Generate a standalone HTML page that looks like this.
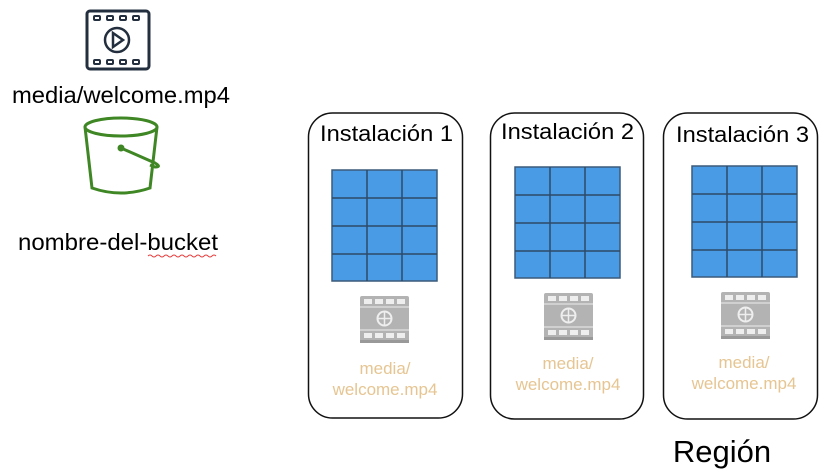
<!DOCTYPE html>
<html><head><meta charset="utf-8"><style>
html,body{margin:0;padding:0;background:#fff;}
svg{display:block;}
text{font-family:"Liberation Sans",sans-serif;}
</style></head><body>
<svg width="832" height="472" viewBox="0 0 832 472" xmlns="http://www.w3.org/2000/svg">
<defs>
<g id="grid">
  <rect x="0" y="0" width="105" height="111" fill="#4a9be6" stroke="#3a5a7a" stroke-width="1.5"/>
  <line x1="35" y1="0" x2="35" y2="111" stroke="#2e4a66" stroke-width="1.5"/>
  <line x1="70" y1="0" x2="70" y2="111" stroke="#2e4a66" stroke-width="1.5"/>
  <line x1="0" y1="28" x2="105" y2="28" stroke="#2e4a66" stroke-width="1.5"/>
  <line x1="0" y1="56" x2="105" y2="56" stroke="#2e4a66" stroke-width="1.5"/>
  <line x1="0" y1="84" x2="105" y2="84" stroke="#2e4a66" stroke-width="1.5"/>
</g>
<g id="film">
  <rect x="0" y="0" width="49" height="47" rx="2" fill="#b3b3b3"/>
  <rect x="0" y="44" width="49" height="3" fill="#999"/>
  <rect x="4" y="3" width="8" height="5" fill="#eee"/>
  <rect x="15" y="3" width="8" height="5" fill="#eee"/>
  <rect x="26" y="3" width="8" height="5" fill="#eee"/>
  <rect x="37" y="3" width="8" height="5" fill="#eee"/>
  <rect x="4" y="37" width="8" height="5" fill="#eee"/>
  <rect x="15" y="37" width="8" height="5" fill="#eee"/>
  <rect x="26" y="37" width="8" height="5" fill="#eee"/>
  <rect x="37" y="37" width="8" height="5" fill="#eee"/>
  <line x1="0" y1="11" x2="49" y2="11" stroke="#eee" stroke-width="1"/>
  <line x1="0" y1="34" x2="49" y2="34" stroke="#eee" stroke-width="1"/>
  <circle cx="24.5" cy="22.5" r="7" fill="none" stroke="#eee" stroke-width="2"/>
  <line x1="24.5" y1="15.5" x2="24.5" y2="29.5" stroke="#eee" stroke-width="1.5"/>
  <line x1="17.5" y1="22.5" x2="31.5" y2="22.5" stroke="#eee" stroke-width="1.5"/>
</g>
</defs>

<!-- video icon -->
<rect x="87" y="11" width="62" height="58" rx="3" fill="none" stroke="#232f3e" stroke-width="3"/>
<g fill="none" stroke="#232f3e" stroke-width="2">
  <rect x="94" y="16" width="6" height="4" rx="1"/><rect x="107" y="16" width="6" height="4" rx="1"/>
  <rect x="120" y="16" width="6" height="4" rx="1"/><rect x="133" y="16" width="6" height="4" rx="1"/>
  <rect x="94" y="60" width="6" height="4" rx="1"/><rect x="107" y="60" width="6" height="4" rx="1"/>
  <rect x="120" y="60" width="6" height="4" rx="1"/><rect x="133" y="60" width="6" height="4" rx="1"/>
  <circle cx="117" cy="40" r="12" stroke-width="2.5"/>
  <path d="M113 33 L123 40 L113 47 Z" stroke-width="2.5"/>
</g>
<text x="12" y="103" font-size="23" textLength="218" lengthAdjust="spacingAndGlyphs" fill="#000">media/welcome.mp4</text>

<!-- bucket -->
<g fill="none" stroke="#3f8624" stroke-width="3">
  <ellipse cx="121" cy="127" rx="36" ry="9"/>
  <path d="M85 127 L92 188 Q121 198 150 188 L157 127"/>
  <circle cx="121" cy="148" r="2" fill="#3f8624"/>
  <path d="M121 148 L155 163 Q162 167 155 167 L150 165"/>
</g>
<text x="18" y="250" font-size="23" textLength="200" lengthAdjust="spacingAndGlyphs" fill="#000">nombre-del-bucket</text>
<path d="M148 256 q2 -2 4 0 t4 0 t4 0 t4 0 t4 0 t4 0 t4 0 t4 0 t4 0 t4 0 t4 0 t4 0 t4 0 t4 0 t4 0 t4 0 t4 0" fill="none" stroke="#e04040" stroke-width="1"/>

<!-- boxes -->
<rect x="308.5" y="113" width="154" height="305" rx="24" fill="none" stroke="#111" stroke-width="1.5"/>
<rect x="490.5" y="113" width="153" height="306" rx="24" fill="none" stroke="#111" stroke-width="1.5"/>
<rect x="663.5" y="113" width="154" height="306" rx="24" fill="none" stroke="#111" stroke-width="1.5"/>

<text x="320" y="141" font-size="22" textLength="133" lengthAdjust="spacingAndGlyphs" fill="#000">Instalación 1</text>
<text x="501" y="139" font-size="22" textLength="133" lengthAdjust="spacingAndGlyphs" fill="#000">Instalación 2</text>
<text x="676" y="142" font-size="22" textLength="133" lengthAdjust="spacingAndGlyphs" fill="#000">Instalación 3</text>

<use href="#grid" x="332" y="170"/>
<use href="#grid" x="515" y="167"/>
<use href="#grid" x="692" y="166"/>

<use href="#film" x="360" y="296"/>
<use href="#film" x="544" y="293"/>
<use href="#film" x="721" y="292"/>

<g font-size="17" fill="#e6c592" text-anchor="middle">
  <text x="385" y="374">media/</text>
  <text x="385" y="395">welcome.mp4</text>
  <text x="568" y="369">media/</text>
  <text x="568" y="390">welcome.mp4</text>
  <text x="744" y="368">media/</text>
  <text x="744" y="389">welcome.mp4</text>
</g>

<text x="722" y="462" font-size="31" text-anchor="middle" fill="#000">Región</text>
</svg>
</body></html>
